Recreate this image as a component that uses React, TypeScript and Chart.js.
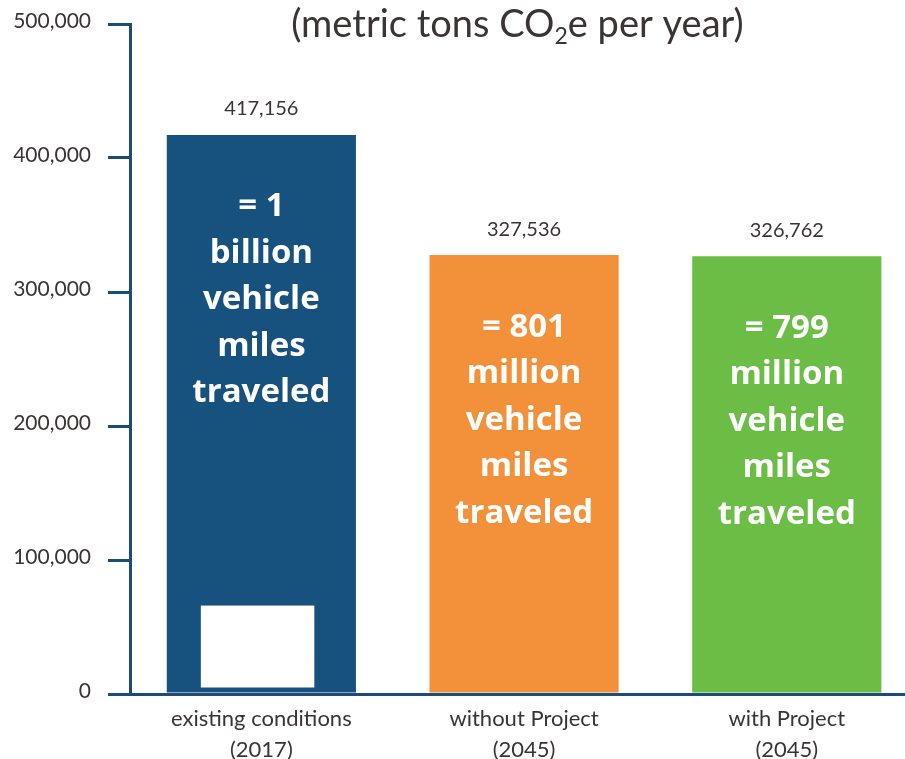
import React, { useEffect, useRef } from "react";
import { Chart, registerables } from "chart.js";

Chart.register(...registerables);

const categories: string[][] = [
  ["existing conditions", "(2017)"],
  ["without Project", "(2045)"],
  ["with Project", "(2045)"],
];
const emissions: number[] = [417156, 327536, 326762];
const barColors: string[] = ["#17527f", "#f3913a", "#6bbd45"];
const innerTexts: string[][] = [
  ["= 1", "billion", "vehicle", "miles", "traveled"],
  ["= 801", "million", "vehicle", "miles", "traveled"],
  ["= 799", "million", "vehicle", "miles", "traveled"],
];
const yMin = 0;
const yMax = 500000;
const yStep = 100000;
const titleParts: string[] = ["(metric tons CO", "2", "e per year)"];
const blankBoxTopValue = 66000;

const AXIS = "#1b4d78";
const TEXT = "#3a3534";
const fmt = (v: number) => Math.round(v).toLocaleString("en-US");

const overlayPlugin = {
  id: "overlay",
  afterDatasetsDraw(chart: any) {
    const ctx = chart.ctx as CanvasRenderingContext2D;
    const meta = chart.getDatasetMeta(0);
    const yScale = chart.scales.y;
    ctx.save();
    meta.data.forEach((bar: any, i: number) => {
      const w = bar.width;
      if (i === 0) {
        const top = yScale.getPixelForValue(blankBoxTopValue);
        ctx.fillStyle = "#ffffff";
        ctx.fillRect(bar.x - 0.32 * w, top, 0.6 * w, bar.base - 5 - top);
      }
      ctx.fillStyle = TEXT;
      ctx.font = "20px Lato";
      ctx.textAlign = "center";
      ctx.textBaseline = "middle";
      ctx.fillText(fmt(emissions[i]), bar.x, bar.y - 26);
      ctx.fillStyle = "#ffffff";
      ctx.font = "bold 33px 'Open Sans'";
      innerTexts[i].forEach((line, j) => {
        ctx.fillText(line, bar.x, bar.y + 72 + j * 46.5);
      });
    });
    const area = chart.chartArea;
    const cx = (area.left + area.right) / 2;
    const baseY = 37;
    ctx.textBaseline = "alphabetic";
    ctx.textAlign = "left";
    ctx.fillStyle = TEXT;
    ctx.font = "38px Lato";
    const w1 = ctx.measureText(titleParts[0]).width;
    const w3 = ctx.measureText(titleParts[2]).width;
    ctx.font = "23px Lato";
    const w2 = ctx.measureText(titleParts[1]).width;
    let x = cx - (w1 + w2 + w3) / 2;
    ctx.font = "38px Lato";
    ctx.fillText(titleParts[0], x, baseY);
    x += w1;
    ctx.font = "23px Lato";
    ctx.fillText(titleParts[1], x, baseY + 7);
    x += w2;
    ctx.font = "38px Lato";
    ctx.fillText(titleParts[2], x, baseY);
    ctx.restore();
  },
};

export default function App() {
  const ref = useRef<HTMLCanvasElement | null>(null);
  useEffect(() => {
    if (!ref.current) return;
    const chart = new Chart(ref.current, {
      type: "bar",
      data: {
        datasets: [
          {
            data: emissions.map((v, i) => ({ x: i, y: v })),
            backgroundColor: barColors,
            borderWidth: 0,
          },
        ],
      },
      options: {
        animation: false,
        responsive: false,
        maintainAspectRatio: false,
        layout: { padding: { top: 24, left: 0, right: 0, bottom: 0 } },
        plugins: { legend: { display: false }, tooltip: { enabled: false }, title: { display: false } },
        scales: {
          x: {
            type: "linear",
            min: -0.5,
            max: 2.45,
            offset: false,
            z: 1,
            grid: { display: false, offset: false },
            border: { display: true, color: AXIS, width: 3 },
            afterBuildTicks: (s: any) => {
              s.ticks = categories.map((_, i) => ({ value: i }));
            },
            afterFit: (s: any) => {
              s.height = 65;
            },
            ticks: {
              autoSkip: false,
              maxRotation: 0,
              padding: 1,
              color: TEXT,
              font: { family: "Lato", size: 22, lineHeight: 1.42 },
              callback: (v: any) => categories[v as number] ?? "",
            },
          },
          y: {
            type: "linear",
            min: yMin,
            max: yMax,
            afterFit: (s: any) => {
              s.width = 130;
              s.paddingTop = 0;
              s.paddingBottom = 0;
            },
            grid: {
              drawOnChartArea: false,
              drawTicks: true,
              tickLength: 22,
              color: AXIS,
              lineWidth: 3,
            },
            border: { display: true, color: AXIS, width: 3 },
            ticks: {
              stepSize: yStep,
              padding: 17,
              labelOffset: -3,
              color: TEXT,
              font: { family: "Lato", size: 21 },
              callback: (v: any) => fmt(v as number),
            },
          },
        },
      },
      plugins: [overlayPlugin],
    });
    return () => chart.destroy();
  }, []);
  return (
    <div style={{ position: "absolute", left: 0, top: 0, width: 905, height: 759, background: "#fff" }}>
      <canvas ref={ref} width={905} height={759} style={{ display: "block" }} />
    </div>
  );
}
